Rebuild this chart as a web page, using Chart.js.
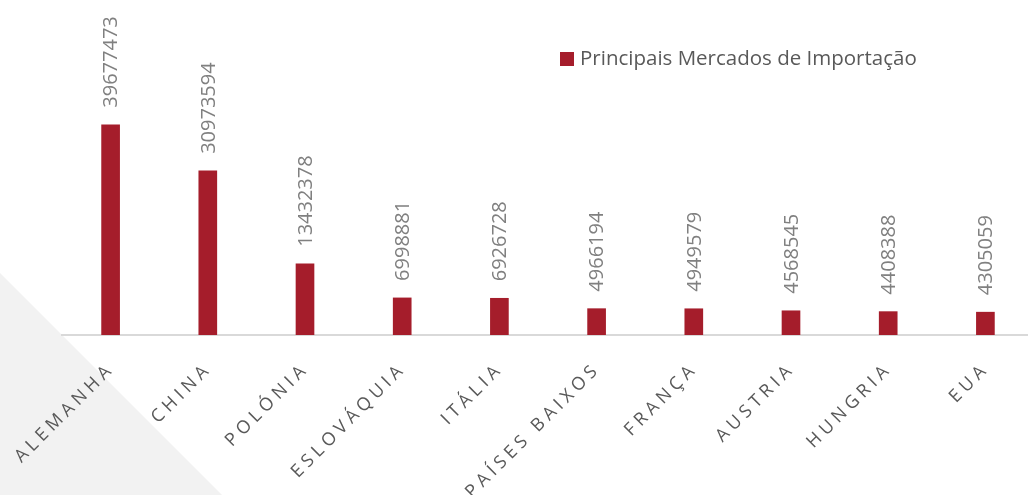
<!DOCTYPE html>
<html>
<head>
<meta charset="utf-8">
<script src="https://cdn.jsdelivr.net/npm/chart.js@4"></script>
<style>
  html, body { margin: 0; padding: 0; background: #fff; overflow: hidden; }
  #wrap { width: 1028px; height: 495px; overflow: hidden; }
  #chart { display: block; }
</style>
</head>
<body>
<div id="wrap"><canvas id="chart" width="1040" height="495"></canvas></div>
<script>
// Dados do gráfico
const paises = ['ALEMANHA', 'CHINA', 'POLÓNIA', 'ESLOVÁQUIA', 'ITÁLIA', 'PAÍSES BAIXOS', 'FRANÇA', 'AUSTRIA', 'HUNGRIA', 'EUA'];
const valores = [39677473, 30973594, 13432378, 6998881, 6926728, 4966194, 4949579, 4568545, 4408388, 4305059];
const serieNome = 'Principais Mercados de Importação';

const vermelho = '#A51D2B';
const cinzaTexto = '#595959';

// Desenha triângulo de fundo, rótulos e legenda
const extras = {
  id: 'extras',
  beforeDraw(chart) {
    const c = chart.ctx;
    c.save();
    c.fillStyle = '#f2f2f2';
    c.beginPath();
    c.moveTo(0, 273);
    c.lineTo(222, 495);
    c.lineTo(0, 495);
    c.closePath();
    c.fill();
    c.restore();
  },
  afterDatasetsDraw(chart) {
    const c = chart.ctx;
    const meta = chart.getDatasetMeta(0);
    const xScale = chart.scales.x;

    // valores acima das barras
    c.save();
    c.fillStyle = '#808080';
    c.font = '20px "Open Sans"';
    c.textAlign = 'left';
    c.textBaseline = 'middle';
    meta.data.forEach((bar, i) => {
      c.save();
      c.translate(bar.x + 1, bar.y - 17);
      c.rotate(-Math.PI / 2);
      c.fillText(String(valores[i]), 0, 0);
      c.restore();
    });
    c.restore();

    // categorias inclinadas
    c.save();
    c.fillStyle = cinzaTexto;
    c.font = '18px "Open Sans"';
    c.letterSpacing = '4.5px';
    c.textAlign = 'right';
    c.textBaseline = 'middle';
    paises.forEach((p, i) => {
      const x = xScale.getPixelForValue(i);
      c.save();
      c.translate(x + 1, 366);
      c.rotate(-Math.PI / 4);
      c.fillText(p, 0, 0);
      c.restore();
    });
    c.restore();

    // legenda
    c.save();
    c.fillStyle = vermelho;
    c.fillRect(560, 52, 14, 14);
    c.fillStyle = cinzaTexto;
    c.font = '20.5px "Open Sans"';
    c.textAlign = 'left';
    c.textBaseline = 'middle';
    c.fillText(serieNome, 580, 59);
    c.restore();
  }
};

new Chart(document.getElementById('chart').getContext('2d'), {
  type: 'bar',
  data: {
    labels: paises,
    datasets: [{
      label: serieNome,
      data: valores,
      backgroundColor: vermelho,
      barThickness: 18
    }]
  },
  options: {
    responsive: false,
    animation: false,
    layout: { padding: { left: 62, right: 6, top: 70, bottom: 160 } },
    scales: {
      x: {
        ticks: { display: false },
        grid: { display: false, drawTicks: false },
        border: { color: '#d9d9d9', width: 2 }
      },
      y: {
        display: false,
        min: 0,
        max: 50000000
      }
    },
    plugins: {
      legend: { display: false },
      tooltip: { enabled: false }
    }
  },
  plugins: [extras]
});
</script>
</body>
</html>
